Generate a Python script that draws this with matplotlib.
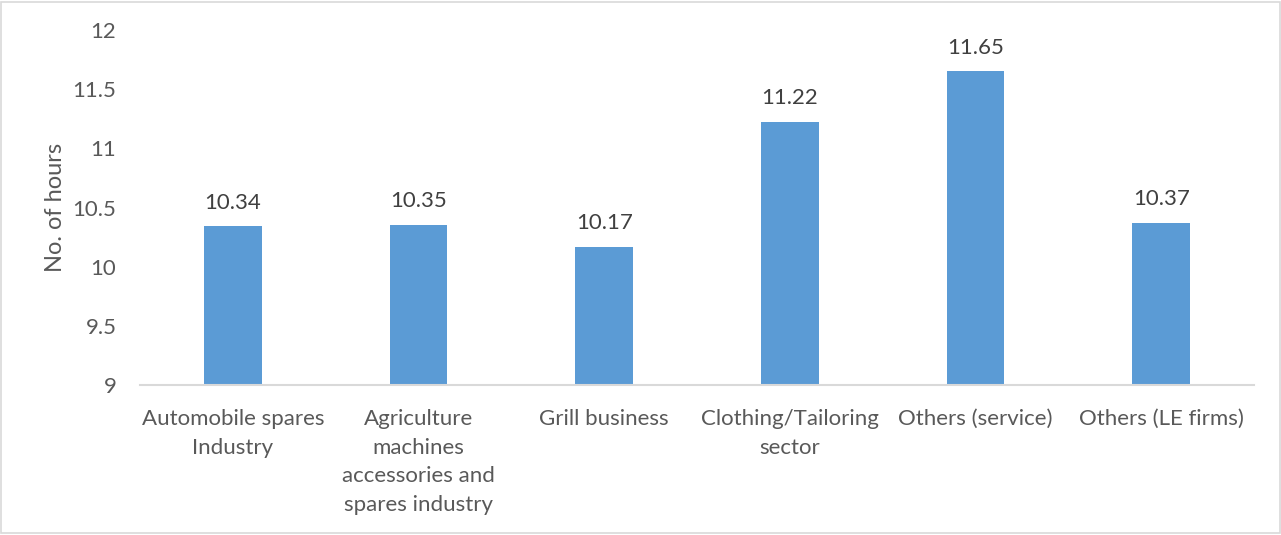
import matplotlib
matplotlib.use("Agg")
import matplotlib.pyplot as plt
from matplotlib.patches import Rectangle

categories = [
    "Automobile spares\nIndustry",
    "Agriculture\nmachines\naccessories and\nspares industry",
    "Grill business",
    "Clothing/Tailoring\nsector",
    "Others (service)",
    "Others (LE firms)",
]
hours = [10.34, 10.35, 10.17, 11.22, 11.65, 10.37]
y_ticks = [9, 9.5, 10, 10.5, 11, 11.5, 12]
y_tick_labels = ["9", "9.5", "10", "10.5", "11", "11.5", "12"]

plt.rcParams["font.family"] = ["Lato", "DejaVu Sans"]
text_color = "#595959"
bar_color = "#5B9BD5"

fig = plt.figure(figsize=(12.81, 5.35), dpi=100)
ax = fig.add_axes([140 / 1281, 1 - 385 / 535, (1254 - 140) / 1281, (385 - 30) / 535])

x = range(len(categories))
ax.bar(x, [h - 9 for h in hours], bottom=9, width=0.31, color=bar_color, zorder=2)
for xi, h in zip(x, hours):
    ax.annotate(f"{h:.2f}", (xi, h), xytext=(0, 10), textcoords="offset points",
                ha="center", va="bottom", fontsize=16, color="#404040")

ax.set_xlim(-0.5, len(categories) - 0.5)
ax.set_ylim(9, 12)
ax.set_yticks(y_ticks)
ax.set_yticklabels(y_tick_labels)
ax.set_xticks(list(x))
ax.set_xticklabels(categories)
ax.tick_params(axis="both", length=0, labelsize=16, colors=text_color)
ax.tick_params(axis="y", pad=17)
ax.tick_params(axis="x", pad=17.5)
for lbl in ax.get_xticklabels():
    lbl.set_linespacing(1.53)

for side in ("top", "right", "left"):
    ax.spines[side].set_visible(False)
ax.spines["bottom"].set_color("#D9D9D9")
ax.spines["bottom"].set_linewidth(1.5)

ax.set_ylabel("No. of hours", fontsize=17, color=text_color, labelpad=5)

fig.patches.append(Rectangle((0.001, 0.003), 0.998, 0.994, transform=fig.transFigure,
                             fill=False, edgecolor="#D9D9D9", linewidth=1.2))

fig.savefig("out.png", dpi=100)
